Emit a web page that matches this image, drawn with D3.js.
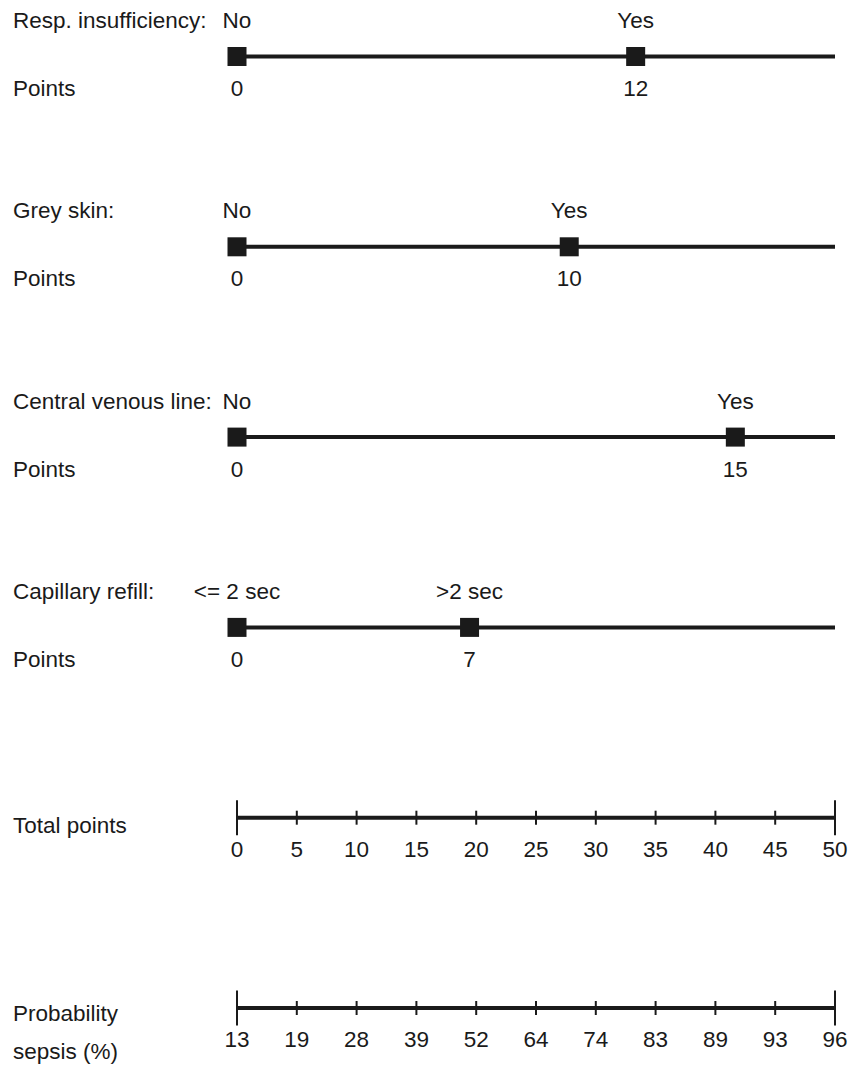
<!DOCTYPE html>
<html>
<head>
<meta charset="utf-8">
<script src="https://cdn.jsdelivr.net/npm/d3@7"></script>
<style>
  html, body { margin: 0; padding: 0; background: #fff; }
  svg text { font-family: "Liberation Sans", Arial, sans-serif; font-size: 22.5px; fill: #1a1a1a; }
</style>
</head>
<body>
<svg id="chart" width="861" height="1068"></svg>
<script>
// ---- data ----
const variables = ["Resp. insufficiency:", "Grey skin:", "Central venous line:", "Capillary refill:"];
const levelLabels = [["No", "Yes"], ["No", "Yes"], ["No", "Yes"], ["<= 2 sec", ">2 sec"]];
const levelPoints = [[0, 12], [0, 10], [0, 15], [0, 7]];
const pointsDomain = [0, 18];
const totalTicks = [0, 5, 10, 15, 20, 25, 30, 35, 40, 45, 50];
const probTickPositions = [0, 5, 10, 15, 20, 25, 30, 35, 40, 45, 50];
const probLabels = ["13", "19", "28", "39", "52", "64", "74", "83", "89", "93", "96"];

// ---- layout ----
const svg = d3.select("#chart");
const ink = "#1a1a1a";
const x0 = 237, x1 = 835;
const rowStep = 190.3;
const firstLineY = 56.5;
const labelX = 13;

const xPoints = d3.scaleLinear().domain(pointsDomain).range([x0, x1]);
const xTotal = d3.scaleLinear().domain([0, 50]).range([x0, x1]);

variables.forEach((name, i) => {
  const y = firstLineY + i * rowStep;
  const g = svg.append("g");
  g.append("text").attr("x", labelX).attr("y", y - 28.5).text(name);
  g.append("text").attr("x", labelX).attr("y", y + 39.5).text("Points");
  g.append("line")
    .attr("x1", xPoints(pointsDomain[0])).attr("x2", xPoints(pointsDomain[1]))
    .attr("y1", y).attr("y2", y)
    .attr("stroke", ink).attr("stroke-width", 4);
  levelPoints[i].forEach((p, j) => {
    const cx = xPoints(p);
    g.append("rect")
      .attr("x", cx - 9.5).attr("y", y - 9.5)
      .attr("width", 19).attr("height", 19)
      .attr("fill", ink);
    g.append("text").attr("x", cx).attr("y", y - 28.5)
      .attr("text-anchor", "middle").text(levelLabels[i][j]);
    g.append("text").attr("x", cx).attr("y", y + 39.5)
      .attr("text-anchor", "middle").text(p);
  });
});

function scaleAxis(y, positions, labels) {
  const g = svg.append("g");
  g.append("line")
    .attr("x1", x0).attr("x2", x1).attr("y1", y).attr("y2", y)
    .attr("stroke", ink).attr("stroke-width", 4);
  positions.forEach((v, k) => {
    const xx = xTotal(v);
    const end = (k === 0 || k === positions.length - 1);
    const half = end ? 17.5 : 7;
    g.append("line")
      .attr("x1", xx).attr("x2", xx)
      .attr("y1", y - half).attr("y2", y + half)
      .attr("stroke", ink).attr("stroke-width", 2);
    g.append("text").attr("x", xx).attr("y", y + 39)
      .attr("text-anchor", "middle").text(labels[k]);
  });
  return g;
}

const totalY = firstLineY + 4 * rowStep;
const probY = firstLineY + 5 * rowStep;

svg.append("text").attr("x", labelX).attr("y", totalY + 15).text("Total points");
scaleAxis(totalY, totalTicks, totalTicks.map(String));

svg.append("text").attr("x", labelX).attr("y", probY + 13).text("Probability");
svg.append("text").attr("x", labelX).attr("y", probY + 51).text("sepsis (%)");
scaleAxis(probY, probTickPositions, probLabels);
</script>
</body>
</html>
